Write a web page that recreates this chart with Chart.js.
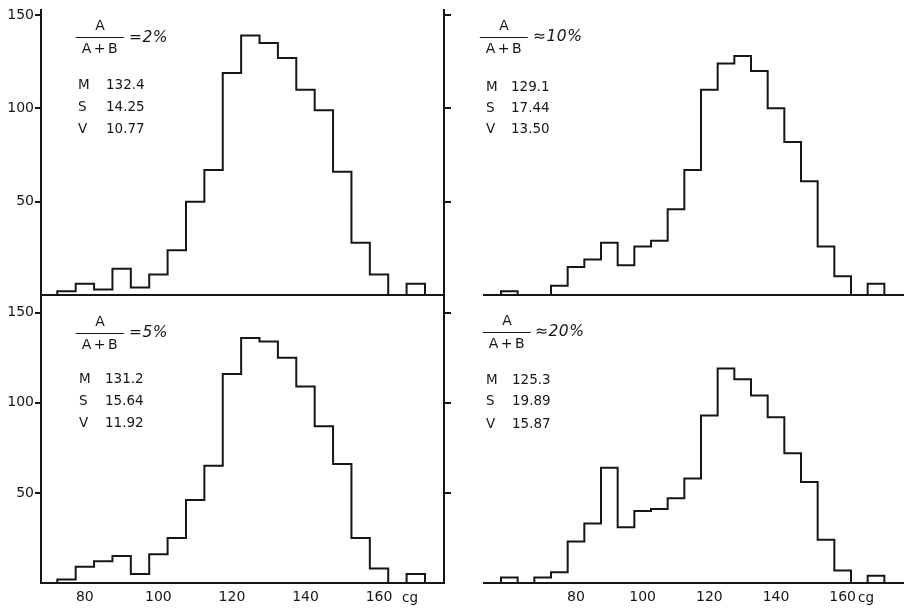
<!DOCTYPE html>
<html>
<head>
<meta charset="utf-8">
<script src="https://cdn.jsdelivr.net/npm/chart.js@4/dist/chart.umd.min.js"></script>
<style>
html,body{margin:0;padding:0;background:#fff;}
body{width:908px;height:609px;position:relative;overflow:hidden;font-family:"DejaVu Sans",sans-serif;color:#161616;}
.panel{position:absolute;}
.panel canvas{display:block;}
.t{position:absolute;font-size:13.5px;line-height:14px;white-space:nowrap;transform:translateY(-50%);}
.t.ratio{font-size:15.5px;letter-spacing:0.5px;line-height:16px;}
.frac{position:absolute;display:flex;flex-direction:column;align-items:center;transform:translateX(-50%);font-size:14px;}
.frac .num{line-height:14px;padding-bottom:5px;}
.frac .den{line-height:14px;border-top:1.5px solid #161616;padding:3px 4px 0 6px;letter-spacing:2.5px;}
.pct{font-style:italic;}
</style>
</head>
<body>
<div class="panel" id="pTL" style="left:0;top:0;"><canvas id="cTL" width="454" height="300"></canvas></div>
<div class="panel" id="pBL" style="left:0;top:290px;"><canvas id="cBL" width="454" height="319"></canvas></div>
<div class="panel" id="pTR" style="left:443px;top:0;"><canvas id="cTR" width="465" height="300"></canvas></div>
<div class="panel" id="pBR" style="left:443px;top:290px;"><canvas id="cBR" width="465" height="319"></canvas></div>
<div id="notes"></div>
<script>
// ---- data ----
const binCenters  = [60,65,70,75,80,85,90,95,100,105,110,115,120,125,130,135,140,145,150,155,160,165,170];
const counts2pct  = [0,0,0,2,6,3,14,4,11,24,50,67,119,139,135,127,110,99,66,28,11,0,6];
const counts10pct = [2,0,0,5,15,19,28,16,26,29,46,67,110,124,128,120,100,82,61,26,10,0,6];
const counts5pct  = [0,0,0,2,9,12,15,5,16,25,46,65,116,136,134,125,109,87,66,25,8,0,5];
const counts20pct = [3,0,3,6,23,33,64,31,40,41,47,58,93,119,113,104,92,72,56,24,7,0,4];
const yTickValues = [50,100,150];
const xTickValues = [80,100,120,140,160];
const binWidth = 5;
const xUnit = "cg";
const ratioLabels = ["=2%", "\u224810%", "=5%", "\u224820%"];
const statNames = ["M","S","V"];
const stats2pct  = ["132.4","14.25","10.77"];
const stats10pct = ["129.1","17.44","13.50"];
const stats5pct  = ["131.2","15.64","11.92"];
const stats20pct = ["125.3","19.89","15.87"];

const INK = "#161616";
const FONT = {family:"DejaVu Sans", size:14};

function histPoints(counts){
  const pts = [{x: binCenters[0] - binWidth/2, y: 0}];
  counts.forEach((c,i) => pts.push({x: binCenters[i] - binWidth/2, y: c}));
  pts.push({x: binCenters[binCenters.length-1] + binWidth/2, y: 0});
  return pts;
}

function zeroPad(s){ s.paddingTop = 0; s.paddingBottom = 0; s.paddingLeft = 0; s.paddingRight = 0; }

function makePanel(id, counts, cfg){
  const scales = {
    x: {
      type: 'linear', min: cfg.xMin, max: cfg.xMax, position: 'bottom',
      border: {display: true, color: INK, width: 2},
      grid: {display: false, drawTicks: false},
      ticks: {display: cfg.xLabels, font: FONT, color: INK, padding: 6, maxRotation: 0, autoSkip: false},
      afterBuildTicks: s => { s.ticks = xTickValues.map(v => ({value: v})); },
      afterFit: s => { s.height = cfg.xAxisH; zeroPad(s); }
    },
    y: {
      type: 'linear', min: 0, max: cfg.yMax, position: 'left', display: cfg.leftAxis,
      border: {display: true, color: INK, width: 2},
      grid: {display: true, drawOnChartArea: false, drawTicks: true, tickLength: 6, color: INK, lineWidth: 2},
      ticks: {display: true, font: FONT, color: INK, padding: 1},
      afterBuildTicks: s => { s.ticks = yTickValues.map(v => ({value: v})); },
      afterFit: s => { s.width = 41; zeroPad(s); }
    }
  };
  if (cfg.leftAxis) {
    scales.y2 = {
      type: 'linear', min: 0, max: cfg.yMax, position: 'right', display: true,
      border: {display: true, color: INK, width: 2},
      grid: {display: true, drawOnChartArea: false, drawTicks: true, tickLength: 7, color: INK, lineWidth: 2},
      ticks: {display: false},
      afterBuildTicks: s => { s.ticks = yTickValues.map(v => ({value: v})); },
      afterFit: s => { s.width = 10; zeroPad(s); }
    };
  }
  return new Chart(document.getElementById(id), {
    type: 'line',
    data: {datasets: [{
      data: histPoints(counts),
      stepped: 'before',
      borderColor: INK, borderWidth: 2,
      pointRadius: 0, pointHoverRadius: 0,
      fill: false, tension: 0
    }]},
    options: {
      responsive: false, animation: false, devicePixelRatio: 1,
      layout: {padding: cfg.padding},
      plugins: {legend: {display: false}, tooltip: {enabled: false}, title: {display: false}},
      events: [],
      scales: scales
    }
  });
}

makePanel('cTL', counts2pct,  {xMin: 68.07, xMax: 177.67, yMax: 152.7, leftAxis: true,  xLabels: false, xAxisH: 5,  padding: {top: 10, left: 0, right: 0, bottom: 0}});
makePanel('cBL', counts5pct,  {xMin: 68.07, xMax: 177.67, yMax: 159.8, leftAxis: true,  xLabels: true,  xAxisH: 26, padding: {top: 5,  left: 0, right: 0, bottom: 0}});
makePanel('cTR', counts10pct, {xMin: 52.4,  xMax: 178.1,  yMax: 152.7, leftAxis: false, xLabels: false, xAxisH: 5,  padding: {top: 10, left: 0, right: 5, bottom: 0}});
makePanel('cBR', counts20pct, {xMin: 52.4,  xMax: 178.1,  yMax: 159.8, leftAxis: false, xLabels: true,  xAxisH: 26, padding: {top: 5,  left: 0, right: 5, bottom: 0}});

// ---- text annotations ----
const notes = document.getElementById('notes');
function addText(x, y, html, cls){
  const d = document.createElement('div');
  d.className = 't' + (cls ? ' ' + cls : '');
  d.style.left = x + 'px'; d.style.top = y + 'px';
  d.innerHTML = html;
  notes.appendChild(d);
}
function addFrac(cx, top){
  const f = document.createElement('div');
  f.className = 'frac';
  f.style.left = cx + 'px'; f.style.top = top + 'px';
  f.innerHTML = '<span class="num">A</span><span class="den">A+B</span>';
  notes.appendChild(f);
}
function ratioHtml(s){ return s.charAt(0) + '<span class="pct">' + s.slice(1) + '</span>'; }

const panelsText = [
  {fx: 100, ft: 18,  rx: 129, ry: 36.5,  mx: 78,  vx: 106, rows: [84, 106, 127.5],     lab: ratioLabels[0], st: stats2pct},
  {fx: 504, ft: 18,  rx: 533, ry: 35.7,  mx: 486, vx: 511, rows: [86, 107, 128],       lab: ratioLabels[1], st: stats10pct},
  {fx: 100, ft: 314, rx: 129, ry: 331.7, mx: 79,  vx: 105, rows: [378.3, 400, 422.3],  lab: ratioLabels[2], st: stats5pct},
  {fx: 507, ft: 313, rx: 535, ry: 330.7, mx: 486, vx: 512, rows: [379.3, 400, 422.7],  lab: ratioLabels[3], st: stats20pct}
];
panelsText.forEach(p => {
  addFrac(p.fx, p.ft);
  addText(p.rx, p.ry, ratioHtml(p.lab), 'ratio');
  statNames.forEach((n, i) => {
    addText(p.mx, p.rows[i], n);
    addText(p.vx, p.rows[i], p.st[i]);
  });
});
addText(402, 597, xUnit);
addText(858, 597, xUnit);
</script>
</body>
</html>
